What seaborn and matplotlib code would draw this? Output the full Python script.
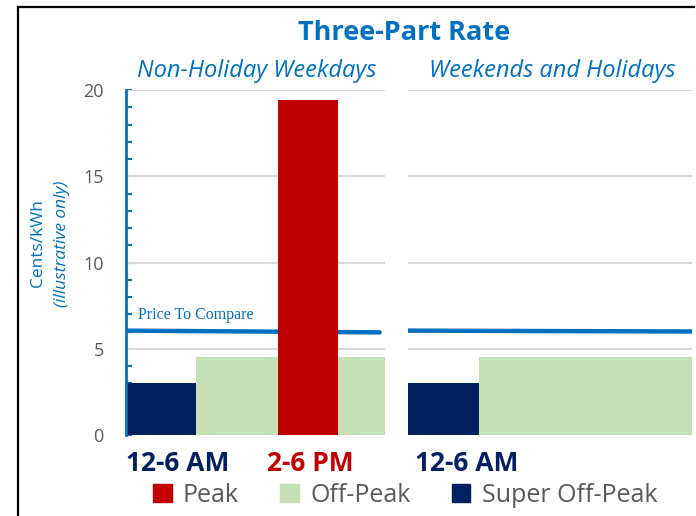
import matplotlib
matplotlib.use("Agg")
import matplotlib.pyplot as plt
import matplotlib.patches as mpatches
import matplotlib.lines as mlines
import seaborn as sns
import pandas as pd

# values (x in panel units 0-24, y in cents/kWh)
weekday_start = [6.5, 0.0, 14.1]
weekday_width = [17.5, 6.5, 5.5]
weekday_rate = [4.5, 3.0, 19.4]
weekday_type = ["Off-Peak", "Super Off-Peak", "Peak"]

weekend_start = [6.0, 0.0]
weekend_width = [18.0, 6.0]
weekend_rate = [4.5, 3.0]
weekend_type = ["Off-Peak", "Super Off-Peak"]

ptc_weekday = pd.DataFrame({"x": [0.0, 23.5], "y": [6.05, 5.95]})
ptc_weekend = pd.DataFrame({"x": [0.0, 24.0], "y": [6.05, 6.0]})

weekday_ticks = [4.8, 17.1]
weekday_labels = ["12-6 AM", "2-6 PM"]
weekend_ticks = [5.0]
weekend_labels = ["12-6 AM"]

colors = {"Peak": "#C00000", "Off-Peak": "#C5E0B4", "Super Off-Peak": "#002060"}
blue = "#0070C0"
grey = "#595959"

sns.set_theme(style="white")
plt.rcParams['font.family'] = ['Open Sans', 'DejaVu Sans']

fig = plt.figure(figsize=(6.96, 5.16), dpi=100)
ax1 = fig.add_axes([126 / 696, 1 - 435 / 516, 259 / 696, 345 / 516])
ax2 = fig.add_axes([408 / 696, 1 - 435 / 516, 284 / 696, 345 / 516])


def draw(ax, starts, widths, rates, kinds, ptc):
    for s, w, r, k in zip(starts, widths, rates, kinds):
        if k == "Peak":
            continue
        ax.bar(s, r, width=w, align="edge", color=colors[k], linewidth=0, zorder=2)
    sns.lineplot(data=ptc, x="x", y="y", ax=ax, color=blue, linewidth=3.2, zorder=3)
    for s, w, r, k in zip(starts, widths, rates, kinds):
        if k == "Peak":
            ax.bar(s, r, width=w, align="edge", color=colors[k], linewidth=0, zorder=4)
    ax.set_xlim(0, 24)
    ax.set_ylim(0, 20)
    for g in [5, 10, 15, 20]:
        ax.axhline(g, color="#D9D9D9", linewidth=1.5, zorder=1)
    for sp in ax.spines.values():
        sp.set_visible(False)
    ax.set_xlabel("")
    ax.set_ylabel("")


draw(ax1, weekday_start, weekday_width, weekday_rate, weekday_type, ptc_weekday)
draw(ax2, weekend_start, weekend_width, weekend_rate, weekend_type, ptc_weekend)

# left axis styling
ax1.spines["left"].set_visible(True)
ax1.spines["left"].set_color(blue)
ax1.spines["left"].set_linewidth(2)
ax1.set_yticks([0, 5, 10, 15, 20])
ax1.set_yticks(range(0, 21), minor=True)
ax1.tick_params(axis="y", which="both", direction="in", length=4, width=1.5,
                color=blue, left=True, pad=16, labelsize=13, labelcolor=grey)
ax1.tick_params(axis="y", which="minor", labelleft=False)
ax2.set_yticks([])

for ax, ticks, labels in [(ax1, weekday_ticks, weekday_labels), (ax2, weekend_ticks, weekend_labels)]:
    ax.set_xticks(ticks)
    ax.set_xticklabels(labels, fontsize=19, fontweight="bold")
    ax.tick_params(axis="x", length=0, pad=11)
for lab, c in zip(ax1.get_xticklabels(), ["#002060", "#C00000"]):
    lab.set_color(c)
for lab in ax2.get_xticklabels():
    lab.set_color("#002060")

ax1.text(1.1, 6.5, "Price To Compare", family="Liberation Serif", fontsize=11.5,
         color=blue, va="bottom")

fig.text(404 / 696, 1 - 33 / 516, "Three-Part Rate", ha="center", va="center",
         fontsize=19.5, fontweight="bold", color=blue)
fig.text(257 / 696, 1 - 71 / 516, "Non-Holiday Weekdays", ha="center", va="center",
         fontsize=17, style="italic", color=blue)
fig.text(552 / 696, 1 - 71 / 516, "Weekends and Holidays", ha="center", va="center",
         fontsize=17, style="italic", color=blue)
fig.text(38 / 696, 1 - 243 / 516, "Cents/kWh", rotation=90, ha="center", va="center",
         fontsize=12.5, color=blue)
fig.text(62 / 696, 1 - 244 / 516, "(illustrative only)", rotation=90, ha="center",
         va="center", fontsize=12.5, style="italic", color=blue)

handles = [mpatches.Patch(color=colors[k], label=k) for k in ["Peak", "Off-Peak", "Super Off-Peak"]]
leg = fig.legend(handles=handles, loc="center", bbox_to_anchor=(405 / 696, 1 - 495 / 516),
                 ncol=3, frameon=False, fontsize=18, handlelength=0.75, handleheight=0.75,
                 handletextpad=0.45, columnspacing=1.65, borderaxespad=0)
for t in leg.get_texts():
    t.set_color(grey)

# outer frame of the original chart box (left and top edges only show)
fig.add_artist(mlines.Line2D([18 / 696, 18 / 696], [0, 1 - 7 / 516], transform=fig.transFigure,
                             color="black", linewidth=1.6, solid_capstyle="projecting"))
fig.add_artist(mlines.Line2D([18 / 696, 0.999], [1 - 7 / 516, 1 - 7 / 516],
                             transform=fig.transFigure, color="black", linewidth=1.6,
                             solid_capstyle="butt"))

fig.savefig("out.png", dpi=100)
